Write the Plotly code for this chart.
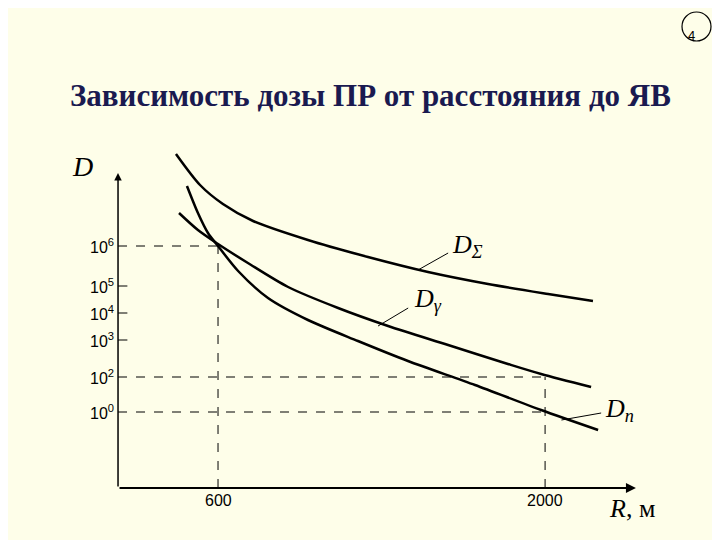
import plotly.graph_objects as go

# R, m (schematic) and schematic "level" of dose (not to scale)
r_sum = [420, 523, 621, 750, 985, 1242, 1499, 1756, 2013, 2205]
d_sum = [334, 303, 284, 267, 248, 231, 216, 204, 194, 187]

r_gam = [433, 514, 600, 728, 900, 1114, 1328, 1585, 1841, 1983, 2197]
d_gam = [275, 258, 244, 225, 201, 180, 162, 143, 124, 114, 101]

r_n = [467, 514, 557, 600, 686, 814, 985, 1199, 1413, 1700, 1983, 2227]
d_n = [302, 275, 255, 242, 217, 190, 168, 147, 127, 103, 78, 58]

tick_levels = [242, 202, 175, 148, 111, 76]
tick_labels = ["10<sup>6</sup>", "10<sup>5</sup>", "10<sup>4</sup>", "10<sup>3</sup>",
               "10<sup>2</sup>", "10<sup>0</sup>"]
x_ticks = [600, 2000]

X0, XEND, YEND = 172, 2389, 315
BG = "#fefee9"

fig = go.Figure()
for r, d in [(r_sum, d_sum), (r_gam, d_gam), (r_n, d_n)]:
    fig.add_trace(go.Scatter(x=r, y=d, mode="lines",
                             line=dict(color="black", width=2.5, shape="spline", smoothing=0.8)))

dash = dict(color="black", width=1, dash="dash")
fig.add_shape(type="line", x0=X0, x1=600, y0=242, y1=242, line=dash)
fig.add_shape(type="line", x0=600, x1=600, y0=0, y1=242, line=dash)
fig.add_shape(type="line", x0=X0, x1=2000, y0=111, y1=111, line=dash)
fig.add_shape(type="line", x0=X0, x1=2000, y0=76, y1=76, line=dash)
fig.add_shape(type="line", x0=2000, x1=2000, y0=0, y1=111, line=dash)

for lv, lab in zip(tick_levels, tick_labels):
    if lv in (202, 175, 148):
        fig.add_shape(type="line", x0=X0, x1=X0 + 40, y0=lv, y1=lv, line=dict(color="black", width=1))
    fig.add_annotation(x=X0 - 10, y=lv, text=lab, showarrow=False, xanchor="right",
                       font=dict(family="Arial", size=16, color="black"))
for xt in x_ticks:
    fig.add_annotation(x=xt, y=-2, text=str(xt), showarrow=False, yanchor="top",
                       font=dict(family="Arial", size=16, color="black"))

# axes with arrows
fig.add_annotation(x=XEND, y=0, ax=X0, ay=0, axref="x", ayref="y", text="", showarrow=True,
                   arrowhead=2, arrowsize=1, arrowwidth=2, arrowcolor="black")
fig.add_annotation(x=X0, y=YEND, ax=X0, ay=0, axref="x", ayref="y", text="", showarrow=True,
                   arrowhead=2, arrowsize=1, arrowwidth=1.5, arrowcolor="black")

serif = "Times New Roman, Liberation Serif, serif"
fig.add_annotation(x=X0 - 150, y=322, text="<i>D</i>", showarrow=False,
                   font=dict(family=serif, size=28, color="black"))
fig.add_annotation(x=2370, y=-20, text="<i>R</i>, м", showarrow=False,
                   font=dict(family=serif, size=26, color="black"))

lead = dict(color="black", width=1)
fig.add_shape(type="line", x0=1456, x1=1585, y0=218, y1=235, line=lead)
fig.add_annotation(x=1592, y=242, text="<i>D</i><sub><i>Σ</i></sub>", showarrow=False, xanchor="left",
                   font=dict(family=serif, size=26, color="black"))
fig.add_shape(type="line", x0=1285, x1=1414, y0=162, y1=180, line=lead)
fig.add_annotation(x=1430, y=188, text="<i>D</i><sub><i>γ</i></sub>", showarrow=False, xanchor="left",
                   font=dict(family=serif, size=26, color="black"))
fig.add_shape(type="line", x0=2070, x1=2240, y0=68, y1=75, line=lead)
fig.add_annotation(x=2250, y=78, text="<i>D</i><sub><i>n</i></sub>", showarrow=False, xanchor="left",
                   font=dict(family=serif, size=26, color="black"))

fig.add_annotation(xref="paper", yref="paper", x=362 / 720, y=1 - 68 / 540,
                   text="<b>Зависимость дозы ПР от расстояния до ЯВ</b>", showarrow=False,
                   font=dict(family=serif, size=31, color="#1a1a50"))
fig.add_shape(type="circle", xref="paper", yref="paper", x0=674 / 720, x1=703 / 720,
              y0=1 - 33 / 540, y1=1 - 4 / 540, line=dict(color="black", width=1.2))
fig.add_annotation(xref="paper", yref="paper", x=688.5 / 720, y=1 - 18.5 / 540, text="4",
                   showarrow=False, font=dict(family="Arial", size=13, color="black"))

fig.update_xaxes(range=[-299, 2783], visible=False)
fig.update_yaxes(range=[-60, 480], visible=False)
fig.update_layout(width=720, height=540, margin=dict(l=0, r=0, t=0, b=0, autoexpand=False),
                  paper_bgcolor=BG, plot_bgcolor=BG, showlegend=False)
fig.write_html("out.html")
